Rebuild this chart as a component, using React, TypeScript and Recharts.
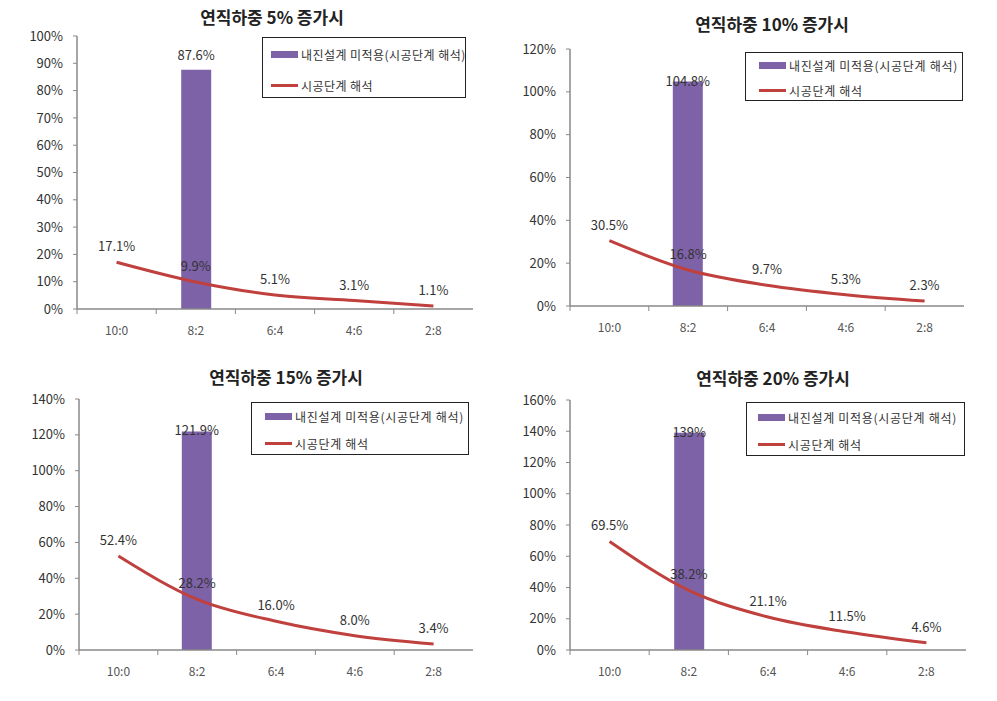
import React from 'react';
import { ComposedChart, Bar, Line, XAxis, YAxis, LabelList, Legend } from 'recharts';

const CATEGORIES = ['10:0', '8:2', '6:4', '4:6', '2:8'];

const TITLE_5 = '연직하중 5% 증가시';
const TITLE_10 = '연직하중 10% 증가시';
const TITLE_15 = '연직하중 15% 증가시';
const TITLE_20 = '연직하중 20% 증가시';

const BAR_NAME = '내진설계 미적용(시공단계 해석)';
const LINE_NAME = '시공단계 해석';

const BAR_5 = [null, 87.6, null, null, null];
const LINE_5 = [17.1, 9.9, 5.1, 3.1, 1.1];
const BAR_10 = [null, 104.8, null, null, null];
const LINE_10 = [30.5, 16.8, 9.7, 5.3, 2.3];
const BAR_15 = [null, 121.9, null, null, null];
const LINE_15 = [52.4, 28.2, 16.0, 8.0, 3.4];
const BAR_20 = [null, 139, null, null, null];
const LINE_20 = [69.5, 38.2, 21.1, 11.5, 4.6];

const TICKS_5 = [0, 10, 20, 30, 40, 50, 60, 70, 80, 90, 100];
const TICKS_10 = [0, 20, 40, 60, 80, 100, 120];
const TICKS_15 = [0, 20, 40, 60, 80, 100, 120, 140];
const TICKS_20 = [0, 20, 40, 60, 80, 100, 120, 140, 160];

const FONT = '"Noto Sans CJK KR", "Noto Sans", sans-serif';
const BAR_COLOR = '#7e62a8';
const LINE_COLOR = '#c0403e';

const buildRows = (bars: (number | null)[], line: number[]) =>
  CATEGORIES.map((cat, i) => ({ cat, bar: bars[i], line: line[i] }));

function XTick(props: any) {
  const { x, y, payload } = props;
  const off = payload && payload.offset ? payload.offset : 0;
  return (
    <g>
      {off ? <line x1={x - off} x2={x - off} y1={y - 17} y2={y - 12} stroke="#888" strokeWidth={1} /> : null}
      <text x={x} y={y} dy="0.71em" textAnchor="middle" fill="#555" fontSize={12} fontFamily={FONT}>
        {payload.value}
      </text>
    </g>
  );
}

function makeLegend(swatchLeft: number, row1: number, row2: number, spacing: number) {
  return (props: any) => {
    const payload = props.payload || [];
    const rows = [row1, row2];
    return (
      <div
        style={{
          position: 'relative',
          width: '100%',
          height: '100%',
          boxSizing: 'border-box',
          border: '1.5px solid #222',
          background: '#fff',
          fontFamily: FONT,
        }}
      >
        {payload.map((entry: any, i: number) => (
          <div
            key={i}
            style={{
              position: 'absolute',
              left: swatchLeft,
              top: rows[i] - 9,
              height: 18,
              display: 'flex',
              alignItems: 'center',
              whiteSpace: 'nowrap',
            }}
          >
            {entry.type === 'line' ? (
              <span style={{ display: 'inline-block', width: 27, height: 3, background: entry.color }} />
            ) : (
              <span style={{ display: 'inline-block', width: 27, height: 7, background: entry.color }} />
            )}
            <span style={{ marginLeft: 3, fontSize: 12, color: '#333', letterSpacing: spacing }}>{entry.value}</span>
          </div>
        ))}
      </div>
    );
  };
}

type Cfg = {
  title: string;
  titleX: number;
  titleY: number;
  left: number;
  top: number;
  width: number;
  height: number;
  margin: { top: number; right: number; bottom: number; left: number };
  bars: (number | null)[];
  line: number[];
  ticks: number[];
  barLabelOffset: number;
  legend: { left: number; top: number; width: number; height: number; swatch: number; r1: number; r2: number; spacing: number };
};

const CHARTS: Cfg[] = [
  {
    title: TITLE_5, titleX: 272, titleY: 17,
    left: 0, top: 0, width: 490, height: 350,
    margin: { top: 36, right: 17, bottom: 11, left: 17 },
    bars: BAR_5, line: LINE_5, ticks: TICKS_5, barLabelOffset: 10,
    legend: { left: 262, top: 37, width: 204, height: 61, swatch: 8, r1: 16, r2: 47, spacing: 0.45 },
  },
  {
    title: TITLE_10, titleX: 772, titleY: 24,
    left: 490, top: 0, width: 507, height: 350,
    margin: { top: 49, right: 33, bottom: 14, left: 20 },
    bars: BAR_10, line: LINE_10, ticks: TICKS_10, barLabelOffset: -4,
    legend: { left: 255, top: 52, width: 218, height: 49, swatch: 13, r1: 12, r2: 37, spacing: 0.7 },
  },
  {
    title: TITLE_15, titleX: 286, titleY: 377,
    left: 0, top: 350, width: 490, height: 351,
    margin: { top: 49, right: 17, bottom: 21, left: 19 },
    bars: BAR_15, line: LINE_15, ticks: TICKS_15, barLabelOffset: -4,
    legend: { left: 251, top: 52, width: 218, height: 53, swatch: 13, r1: 13, r2: 40, spacing: 0.7 },
  },
  {
    title: TITLE_20, titleX: 773, titleY: 378,
    left: 490, top: 350, width: 507, height: 351,
    margin: { top: 50, right: 31, bottom: 21, left: 20 },
    bars: BAR_20, line: LINE_20, ticks: TICKS_20, barLabelOffset: -4,
    legend: { left: 256, top: 52, width: 219, height: 54, swatch: 11, r1: 14, r2: 41, spacing: 0.7 },
  },
];

function Panel({ cfg }: { cfg: Cfg }) {
  const data = buildRows(cfg.bars, cfg.line);
  const max = cfg.ticks[cfg.ticks.length - 1];
  return (
    <div style={{ position: 'absolute', left: cfg.left, top: cfg.top, width: cfg.width, height: cfg.height }}>
      <ComposedChart width={cfg.width} height={cfg.height} data={data} margin={cfg.margin}>
        <XAxis
          dataKey="cat"
          height={30}
          tickSize={0}
          tickMargin={17}
          tickLine={false}
          axisLine={{ stroke: '#888', strokeWidth: 1.5 }}
          tick={<XTick />}
          interval={0}
        />
        <XAxis
          xAxisId="top"
          dataKey="cat"
          orientation="top"
          height={0}
          tick={false}
          tickLine={false}
          axisLine={{ stroke: '#111', strokeWidth: 3 }}
        />
        <YAxis
          domain={[0, max]}
          ticks={cfg.ticks}
          interval={0}
          width={60}
          tickSize={4}
          tickMargin={10}
          tickFormatter={(v: number) => `${v}%`}
          tick={{ fill: '#333', fontSize: 13, fontFamily: FONT }}
          tickLine={{ stroke: '#888' }}
          axisLine={{ stroke: '#888', strokeWidth: 1.5 }}
        />
        <YAxis
          yAxisId="right"
          orientation="right"
          width={0}
          tick={false}
          tickLine={false}
          axisLine={{ stroke: '#aaa', strokeWidth: 1 }}
        />
        <Legend
          layout="horizontal"
          verticalAlign="middle"
          align="center"
          wrapperStyle={{
            position: 'absolute',
            left: cfg.legend.left,
            top: cfg.legend.top,
            width: cfg.legend.width,
            height: cfg.legend.height,
          }}
          content={makeLegend(cfg.legend.swatch, cfg.legend.r1, cfg.legend.r2, cfg.legend.spacing)}
        />
        <Bar dataKey="bar" name={BAR_NAME} fill={BAR_COLOR} barSize={30} isAnimationActive={false} legendType="rect">
          <LabelList
            dataKey="bar"
            position="top"
            offset={cfg.barLabelOffset}
            formatter={(v: any) => (v == null ? '' : `${v}%`)}
            fill="#333"
            fontSize={13}
            fontFamily={FONT}
          />
        </Bar>
        <Line
          dataKey="line"
          name={LINE_NAME}
          type="monotone"
          stroke={LINE_COLOR}
          strokeWidth={3}
          dot={false}
          activeDot={false}
          isAnimationActive={false}
          legendType="line"
        >
          <LabelList
            dataKey="line"
            position="top"
            offset={11}
            formatter={(v: any) => (v == null ? '' : `${Number(v).toFixed(1)}%`)}
            fill="#333"
            fontSize={13}
            fontFamily={FONT}
          />
        </Line>
      </ComposedChart>
    </div>
  );
}

export default function App() {
  return (
    <div style={{ position: 'absolute', left: 0, top: 0, width: 997, height: 701, background: '#fff', overflow: 'hidden' }}>
      {CHARTS.map((cfg, i) => (
        <Panel key={i} cfg={cfg} />
      ))}
      {CHARTS.map((cfg, i) => (
        <div
          key={'t' + i}
          style={{
            position: 'absolute',
            left: cfg.titleX,
            top: cfg.titleY - 12,
            transform: 'translateX(-50%)',
            fontFamily: FONT,
            fontWeight: 700,
            fontSize: 17,
            lineHeight: '24px',
            color: '#222',
            whiteSpace: 'nowrap',
          }}
        >
          {cfg.title}
        </div>
      ))}
    </div>
  );
}
